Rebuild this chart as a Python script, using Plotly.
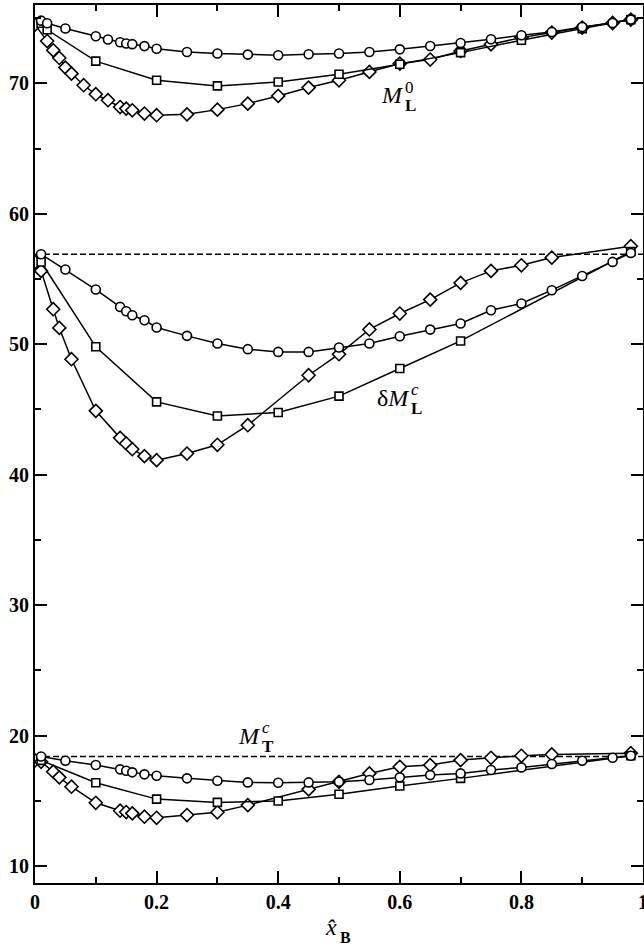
import plotly.graph_objects as go

# --- M_L^0 (top group) ---
x_circ_top = [0.01, 0.02, 0.05, 0.1, 0.12, 0.14, 0.15, 0.16, 0.18, 0.2, 0.25, 0.3, 0.35, 0.4,
              0.45, 0.5, 0.55, 0.6, 0.65, 0.7, 0.75, 0.8, 0.85, 0.9, 0.95, 0.98]
y_circ_top = [74.8, 74.6, 74.2, 73.6, 73.35, 73.15, 73.05, 73.0, 72.85, 72.65, 72.4, 72.28, 72.2, 72.15,
              72.22, 72.28, 72.4, 72.6, 72.86, 73.09, 73.37, 73.68, 73.93, 74.31, 74.62, 74.88]
x_sq_top = [0.01, 0.02, 0.1, 0.2, 0.3, 0.4, 0.5, 0.6, 0.7, 0.8, 0.9, 0.98]
y_sq_top = [74.6, 74.1, 71.7, 70.23, 69.8, 70.1, 70.69, 71.46, 72.35, 73.3, 74.19, 74.88]
x_dia_top = [0.0, 0.02, 0.03, 0.04, 0.05, 0.06, 0.08, 0.1, 0.12, 0.14, 0.15, 0.16, 0.18, 0.2, 0.25,
             0.3, 0.35, 0.4, 0.45, 0.5, 0.55, 0.6, 0.65, 0.7, 0.75, 0.8, 0.85, 0.9, 0.95, 0.98]
y_dia_top = [74.5, 73.24, 72.53, 71.94, 71.2, 70.74, 69.85, 69.16, 68.7, 68.18, 68.06, 67.93, 67.68, 67.55, 67.62,
             67.98, 68.44, 69.03, 69.67, 70.23, 70.87, 71.51, 71.82, 72.48, 72.99, 73.5, 73.89, 74.27, 74.62, 74.88]

# --- delta M_L^c (middle group) ---
x_circ_mid = [0.01, 0.05, 0.1, 0.14, 0.15, 0.16, 0.18, 0.2, 0.25, 0.3, 0.35, 0.4, 0.45, 0.5,
              0.55, 0.6, 0.65, 0.7, 0.75, 0.8, 0.85, 0.9, 0.95, 0.98]
y_circ_mid = [56.9, 55.72, 54.19, 52.86, 52.53, 52.22, 51.84, 51.28, 50.64, 50.05, 49.62, 49.41, 49.41, 49.75,
              50.05, 50.61, 51.12, 51.59, 52.6, 53.12, 54.14, 55.23, 56.31, 57.0]
x_sq_mid = [0.01, 0.1, 0.2, 0.3, 0.4, 0.5, 0.6, 0.7, 0.98]
y_sq_mid = [56.3, 49.8, 45.58, 44.5, 44.77, 46.02, 48.14, 50.25, 57.1]
x_dia_mid = [0.0, 0.01, 0.03, 0.04, 0.06, 0.1, 0.14, 0.15, 0.16, 0.18, 0.2, 0.25, 0.3, 0.35,
             0.45, 0.5, 0.55, 0.6, 0.65, 0.7, 0.75, 0.8, 0.85, 0.98]
y_dia_mid = [56.3, 55.62, 52.68, 51.25, 48.85, 44.89, 42.82, 42.39, 41.95, 41.42, 41.11, 41.62, 42.29, 43.79,
             47.62, 49.23, 51.13, 52.35, 53.42, 54.7, 55.62, 56.05, 56.64, 57.51]

# --- M_T^c (bottom group) ---
x_circ_bot = [0.01, 0.05, 0.1, 0.14, 0.15, 0.16, 0.18, 0.2, 0.25, 0.3, 0.35, 0.4, 0.45, 0.5,
              0.55, 0.6, 0.65, 0.7, 0.75, 0.8, 0.85, 0.9, 0.95, 0.98]
y_circ_bot = [18.4, 18.07, 17.74, 17.41, 17.3, 17.18, 17.03, 16.92, 16.72, 16.54, 16.41, 16.39, 16.41, 16.46,
              16.59, 16.8, 16.97, 17.1, 17.36, 17.56, 17.82, 18.07, 18.3, 18.45]
x_sq_bot = [0.01, 0.1, 0.2, 0.3, 0.4, 0.5, 0.6, 0.7, 0.98]
y_sq_bot = [18.1, 16.39, 15.13, 14.88, 14.98, 15.5, 16.13, 16.72, 18.45]
x_dia_bot = [0.0, 0.01, 0.03, 0.04, 0.06, 0.1, 0.14, 0.15, 0.16, 0.18, 0.2, 0.25, 0.3, 0.35,
             0.45, 0.5, 0.55, 0.6, 0.65, 0.7, 0.75, 0.8, 0.85, 0.98]
y_dia_bot = [18.1, 17.99, 17.23, 16.8, 16.08, 14.85, 14.24, 14.14, 14.04, 13.78, 13.7, 13.91, 14.12, 14.67,
             15.88, 16.46, 17.1, 17.61, 17.74, 18.12, 18.3, 18.45, 18.55, 18.65]

# Reference (dashed) levels
ref_levels = [56.9, 18.4]

x_ticks = [0, 0.2, 0.4, 0.6, 0.8, 1.0]
x_tick_text = ["0", "0.2", "0.4", "0.6", "0.8", "1"]
y_ticks = [10, 20, 30, 40, 50, 60, 70]

SERIF = "Liberation Serif"
fig = go.Figure()

for lvl in ref_levels:
    fig.add_trace(go.Scatter(x=[0, 1], y=[lvl, lvl], mode="lines",
                             line=dict(color="black", width=1.5, dash="6px,3px"),
                             hoverinfo="skip", showlegend=False))

groups = [
    (x_circ_top, y_circ_top, x_sq_top, y_sq_top, x_dia_top, y_dia_top),
    (x_circ_mid, y_circ_mid, x_sq_mid, y_sq_mid, x_dia_mid, y_dia_mid),
    (x_circ_bot, y_circ_bot, x_sq_bot, y_sq_bot, x_dia_bot, y_dia_bot),
]
for xc, yc, xs, ys, xd, yd in groups:
    for xx, yy, sym, sz in [(xd, yd, "diamond", 10), (xs, ys, "square", 8), (xc, yc, "circle", 9)]:
        fig.add_trace(go.Scatter(
            x=xx, y=yy, mode="lines+markers",
            line=dict(color="black", width=1.5),
            marker=dict(symbol=sym, size=sz, color="white",
                        line=dict(color="black", width=1.6)),
            showlegend=False))

axis_common = dict(
    showline=True, linecolor="black", linewidth=2, mirror="ticks",
    ticks="inside", ticklen=12, tickwidth=2, tickcolor="black",
    showgrid=False, zeroline=False, ticklabeloverflow="allow", automargin=False,
    tickfont=dict(family=SERIF, size=20, color="black", weight="bold"),
)

fig.update_xaxes(range=[0, 1], tickvals=x_ticks, ticktext=x_tick_text,
                 minor=dict(ticks="inside", ticklen=6, tickwidth=2, tickcolor="black", dtick=0.1),
                 **axis_common)
fig.update_yaxes(range=[8.7, 76], tickvals=y_ticks,
                 minor=dict(ticks="inside", ticklen=6, tickwidth=2, tickcolor="black", dtick=5),
                 **axis_common)

lab_font = dict(family=SERIF, size=24, color="black")
sub_font = dict(family=SERIF, size=17, color="black", weight="bold")
sup_font = dict(family=SERIF, size=17, color="black")

def curve_label(xm, ym, main, sup, sub):
    fig.add_annotation(x=xm, y=ym, xref="x", yref="y", text=main, showarrow=False,
                       font=lab_font, xanchor="right", yanchor="middle")
    fig.add_annotation(x=xm, y=ym + 0.6, xref="x", yref="y", text=sup, showarrow=False,
                       font=sup_font, xanchor="left", yanchor="middle", xshift=-3)
    fig.add_annotation(x=xm, y=ym - 0.8, xref="x", yref="y", text=sub, showarrow=False,
                       font=sub_font, xanchor="left", yanchor="middle", xshift=-3)

curve_label(0.61, 69.1, "<i>M</i>", "0", "L")
curve_label(0.62, 45.9, "δ<i>M</i>", "<i>c</i>", "L")
curve_label(0.375, 20.0, "<i>M</i>", "<i>c</i>", "T")

# axis title: x-hat with bold subscript B
fig.add_annotation(x=0.5, y=-0.05, xref="x", yref="paper", text="<i>x\u0302</i>",
                   showarrow=False, font=dict(family=SERIF, size=24, color="black"),
                   xanchor="right", yanchor="middle")
fig.add_annotation(x=0.5, y=-0.062, xref="x", yref="paper", text="B",
                   showarrow=False, font=dict(family=SERIF, size=16, color="black", weight="bold"),
                   xanchor="left", yanchor="middle", xshift=-1)

fig.update_layout(
    width=644, height=948,
    margin=dict(l=35, r=1, t=5, b=65),
    paper_bgcolor="white", plot_bgcolor="white",
    showlegend=False,
)

fig.write_html("out.html")
